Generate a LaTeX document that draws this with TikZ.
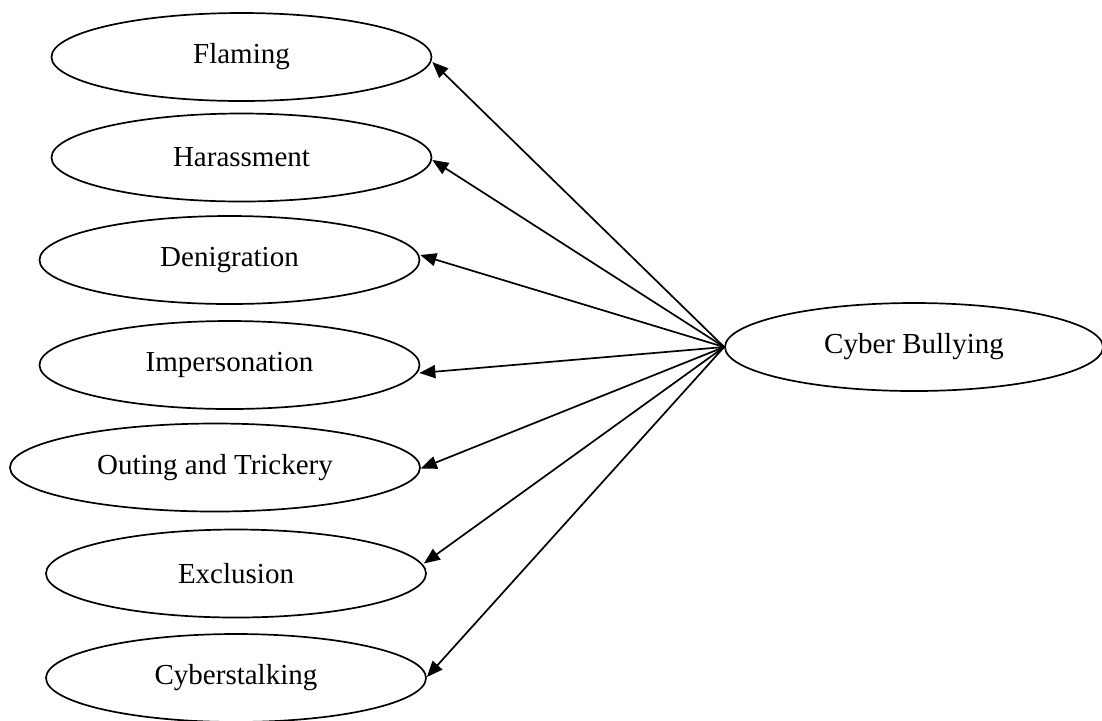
\documentclass[tikz,border=0pt]{standalone}
\usepackage{fontspec}
\setmainfont{Liberation Serif}
\usetikzlibrary{shapes.geometric,arrows.meta}

\tikzset{
  kind/.style={draw,ellipse,line width=0.85pt,inner sep=0pt,
    minimum width=190pt,minimum height=44pt,font=\fontsize{14.5}{16}\selectfont},
  link/.style={line width=0.85pt,-{Triangle[length=8pt,width=6.5pt]}}
}

\begin{document}
\begin{tikzpicture}[x=0.5pt,y=-0.5pt]
    \useasboundingbox (0,0) rectangle (1102,720);

    \node[kind] (flaming) at (241.5,57) {Flaming};
    \node[kind] (harass) at (241.5,157.5) {Harassment};
    \node[kind] (denig) at (229.5,260) {Denigration};
    \node[kind] (imper) at (229.5,365) {Impersonation};
    \node[kind,minimum width=205pt] (outing) at (215,467.5) {Outing and Trickery};
    \node[kind] (excl) at (236,573.5) {Exclusion};
    \node[kind] (stalk) at (236,678) {Cyberstalking};

    \node[kind,minimum width=189pt] (cyber) at (914,347) {Cyber Bullying};

    % arrows end on the right side of each ellipse
    \draw[link] (cyber.west) -- ([yshift=-2.5pt]flaming.east);
    \draw[link] (cyber.west) -- ([yshift=-1.2pt]harass.east);
    \draw[link] (cyber.west) -- ([yshift=2.5pt]denig.east);
    \draw[link] (cyber.west) -- ([yshift=-4pt,xshift=-0.5pt]imper.east);
    \draw[link] (cyber.west) -- ([yshift=-0.5pt]outing.east);
    \draw[link] (cyber.west) -- ([yshift=5pt,xshift=-1.5pt]excl.east);
    \draw[link] (cyber.west) -- ([yshift=0.5pt]stalk.east);
\end{tikzpicture}
\end{document}
